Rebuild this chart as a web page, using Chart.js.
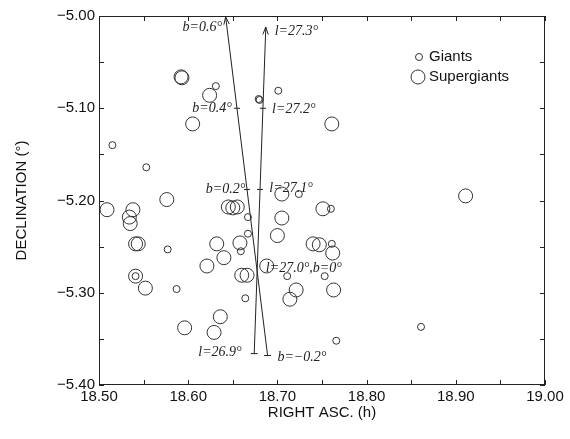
<!DOCTYPE html>
<html>
<head>
<meta charset="utf-8">
<script src="https://cdn.jsdelivr.net/npm/chart.js@4.4.1/dist/chart.umd.min.js"></script>
<style>
  html, body { margin: 0; padding: 0; background: #fff; }
</style>
</head>
<body>
<canvas id="chart" width="570" height="439"></canvas>
<script>
// Giants (small circles)
const giantsRA  = [18.631, 18.515, 18.553, 18.679, 18.680, 18.701, 18.577, 18.541, 18.587, 18.667,
                   18.667, 18.659, 18.664, 18.724, 18.760, 18.761, 18.711, 18.753, 18.861, 18.766];
const giantsDec = [-5.076, -5.140, -5.164, -5.090, -5.091, -5.081, -5.253, -5.282, -5.296, -5.218,
                   -5.236, -5.255, -5.306, -5.193, -5.209, -5.247, -5.282, -5.282, -5.337, -5.352];

// Supergiants (big circles)
const superRA  = [18.592, 18.593, 18.624, 18.605, 18.761, 18.509, 18.538, 18.534, 18.535, 18.576,
                  18.541, 18.544, 18.632, 18.640, 18.621, 18.541, 18.552, 18.645, 18.650, 18.655,
                  18.658, 18.660, 18.666, 18.636, 18.629, 18.596, 18.705, 18.705, 18.700, 18.688,
                  18.721, 18.714, 18.751, 18.740, 18.747, 18.762, 18.763, 18.911];
const superDec = [-5.066, -5.067, -5.086, -5.117, -5.117, -5.210, -5.210, -5.218, -5.225, -5.199,
                  -5.247, -5.247, -5.247, -5.262, -5.271, -5.282, -5.295, -5.207, -5.208, -5.207,
                  -5.246, -5.281, -5.281, -5.326, -5.343, -5.338, -5.193, -5.219, -5.238, -5.271,
                  -5.297, -5.307, -5.209, -5.247, -5.248, -5.257, -5.297, -5.195];

// galactic latitude / longitude guide lines
const bLineRA = [18.642, 18.689];
const bLineDec = [-5.001, -5.368];
const lLineRA = [18.687, 18.674];
const lLineDec = [-5.012, -5.366];
const bTickDec = [-5.100, -5.188];
const lTickDec = [-5.100, -5.188];

const coordLabels   = ["b=0.6°", "l=27.3°", "b=0.4°", "l=27.2°", "b=0.2°", "l=27.1°", "l=27.0°,b=0°", "l=26.9°", "b=−0.2°"];
const coordLabelRA  = [18.638, 18.697, 18.649, 18.694, 18.664, 18.691, 18.687, 18.660, 18.700];
const coordLabelDec = [-5.012, -5.017, -5.100, -5.101, -5.188, -5.187, -5.274, -5.365, -5.370];
const coordLabelSide = ["right", "left", "right", "left", "right", "left", "left", "right", "left"];

const xTicks = [18.5, 18.6, 18.7, 18.8, 18.9, 19.0];
const yTicks = [-5.4, -5.3, -5.2, -5.1, -5.0];
const minorStep = 0.05;

const toPoints = (xs, ys) => xs.map((x, i) => ({ x: x, y: ys[i] }));

const ink = "#333";
const sansFont = "'Liberation Sans', Arial, sans-serif";

function lineXAt(ra, dec, d) {
  const t = (d - dec[0]) / (dec[1] - dec[0]);
  return ra[0] + t * (ra[1] - ra[0]);
}

const decorPlugin = {
  id: "decor",
  afterDraw(chart) {
    const ctx = chart.ctx;
    const xs = chart.scales.x, ys = chart.scales.y;
    const a = chart.chartArea;
    ctx.save();

    // frame
    ctx.strokeStyle = "#222";
    ctx.lineWidth = 1;
    ctx.strokeRect(a.left + 0.5, a.top + 0.5, a.right - a.left - 1, a.bottom - a.top - 1);

    // inward ticks on all four sides
    ctx.beginPath();
    for (let v = xs.min; v <= xs.max + 1e-9; v += minorStep) {
      const px = Math.round(xs.getPixelForValue(v)) + 0.5;
      ctx.moveTo(px, a.bottom); ctx.lineTo(px, a.bottom - 5);
      ctx.moveTo(px, a.top); ctx.lineTo(px, a.top + 5);
    }
    for (let v = ys.min; v <= ys.max + 1e-9; v += minorStep) {
      const py = Math.round(ys.getPixelForValue(v)) + 0.5;
      ctx.moveTo(a.left, py); ctx.lineTo(a.left + 5, py);
      ctx.moveTo(a.right, py); ctx.lineTo(a.right - 5, py);
    }
    ctx.stroke();

    // arrow heads and end / step ticks on guide lines
    ctx.strokeStyle = "#222";
    const guide = (ra, dec, tickDecs) => {
      const x0 = xs.getPixelForValue(ra[0]), y0 = ys.getPixelForValue(dec[0]);
      const x1 = xs.getPixelForValue(ra[1]), y1 = ys.getPixelForValue(dec[1]);
      const ang = Math.atan2(y0 - y1, x0 - x1);
      ctx.beginPath();
      [0.35, -0.35].forEach(da => {
        ctx.moveTo(x0, y0);
        ctx.lineTo(x0 - 8 * Math.cos(ang + da), y0 - 8 * Math.sin(ang + da));
      });
      ctx.moveTo(x1 - 3.5, y1); ctx.lineTo(x1 + 3.5, y1);
      tickDecs.forEach(d => {
        const px = xs.getPixelForValue(lineXAt(ra, dec, d));
        const py = ys.getPixelForValue(d);
        ctx.moveTo(px - 3, py); ctx.lineTo(px + 3, py);
      });
      ctx.stroke();
    };
    guide(bLineRA, bLineDec, bTickDec);
    guide(lLineRA, lLineDec, lTickDec);

    // coordinate labels
    ctx.fillStyle = "#222";
    ctx.font = "italic 14px 'Liberation Serif', 'Times New Roman', serif";
    ctx.textBaseline = "middle";
    coordLabels.forEach((t, i) => {
      ctx.textAlign = coordLabelSide[i];
      ctx.fillText(t, xs.getPixelForValue(coordLabelRA[i]), ys.getPixelForValue(coordLabelDec[i]));
    });

    // legend
    const lx = a.left + 320, ly = a.top + 41;
    ctx.strokeStyle = ink;
    ctx.beginPath(); ctx.arc(lx, ly, 3.5, 0, Math.PI * 2); ctx.stroke();
    ctx.beginPath(); ctx.arc(lx - 1, ly + 20, 7, 0, Math.PI * 2); ctx.stroke();
    ctx.fillStyle = "#111";
    ctx.font = "15px " + sansFont;
    ctx.textAlign = "left";
    ctx.fillText("Giants", lx + 10, ly);
    ctx.fillText("Supergiants", lx + 10, ly + 20);

    ctx.restore();
  }
};

new Chart(document.getElementById("chart"), {
  type: "scatter",
  data: {
    datasets: [
      {
        label: "Giants",
        data: toPoints(giantsRA, giantsDec),
        pointRadius: 3.5,
        pointBorderWidth: 1,
        pointBorderColor: ink,
        pointBackgroundColor: "rgba(0,0,0,0)"
      },
      {
        label: "Supergiants",
        data: toPoints(superRA, superDec),
        pointRadius: 7,
        pointBorderWidth: 1,
        pointBorderColor: ink,
        pointBackgroundColor: "rgba(0,0,0,0)"
      },
      {
        label: "b",
        data: toPoints(bLineRA, bLineDec),
        showLine: true,
        borderColor: "#222",
        borderWidth: 1,
        pointRadius: 0
      },
      {
        label: "l",
        data: toPoints(lLineRA, lLineDec),
        showLine: true,
        borderColor: "#222",
        borderWidth: 1,
        pointRadius: 0
      }
    ]
  },
  options: {
    responsive: false,
    animation: false,
    devicePixelRatio: 1,
    layout: { padding: { left: 0, right: 25, top: 16, bottom: 0 } },
    plugins: { legend: { display: false }, tooltip: { enabled: false } },
    scales: {
      x: {
        type: "linear",
        min: 18.5,
        max: 19.0,
        afterBuildTicks: s => { s.ticks = xTicks.map(v => ({ value: v })); },
        afterFit: s => { s.height = 54; },
        grid: { display: false, drawTicks: false },
        border: { display: false },
        ticks: {
          padding: 3,
          color: "#111",
          font: { size: 15, family: sansFont },
          maxRotation: 0,
          autoSkip: false,
          callback: v => v.toFixed(2)
        },
        title: {
          display: true,
          text: "RIGHT ASC. (h)",
          color: "#111",
          font: { size: 15, family: sansFont },
          padding: { top: 0, bottom: 17 }
        }
      },
      y: {
        type: "linear",
        min: -5.4,
        max: -5.0,
        afterBuildTicks: s => { s.ticks = yTicks.map(v => ({ value: v })); },
        afterFit: s => { s.width = 99; },
        grid: { display: false, drawTicks: false },
        border: { display: false },
        ticks: {
          padding: 4,
          color: "#111",
          font: { size: 15, family: sansFont },
          autoSkip: false,
          callback: v => "−" + Math.abs(v).toFixed(2)
        },
        title: {
          display: true,
          text: "DECLINATION (°)",
          color: "#111",
          font: { size: 15, family: sansFont },
          padding: { top: 13, bottom: 0 }
        }
      }
    }
  },
  plugins: [decorPlugin]
});
</script>
</body>
</html>
